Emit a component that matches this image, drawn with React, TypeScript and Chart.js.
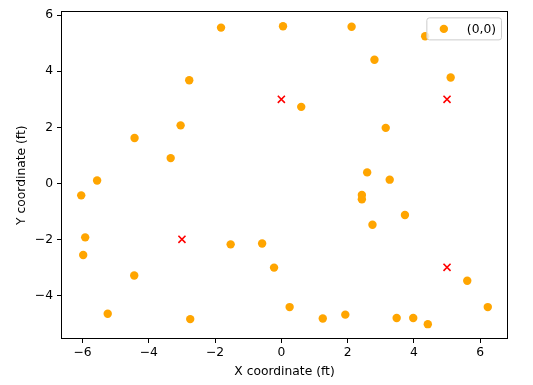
import React, { useEffect, useRef } from "react";
import { Chart, registerables } from "chart.js";

Chart.register(...registerables);

const seriesLabel = "(0,0)";
const pointX = [
  -6.04, -5.56, -4.43, -3.34, -3.04, -2.78, -1.82, 0.05, 2.12, 4.34, 2.81, 5.11,
  0.6, 3.15, 2.59, 3.27, 2.43, 2.43, 3.73, 2.75, -0.58, -0.22, 5.61, 6.23,
  0.25, 1.25, 1.93, 3.48, 3.98, 4.42, -5.92, -5.98, -4.44, -5.24, -2.75, -1.53,
];
const pointY = [
  -0.43, 0.1, 1.62, 0.9, 2.07, 3.68, 5.56, 5.61, 5.59, 5.25, 4.41, 3.78,
  2.73, 1.98, 0.39, 0.13, -0.42, -0.57, -1.13, -1.48, -2.15, -3.01, -3.48, -4.42,
  -4.42, -4.83, -4.69, -4.81, -4.81, -5.03, -1.93, -2.56, -3.29, -4.66, -4.85, -2.18,
];
const crossX = [0, 5, -3, 5];
const crossY = [3, 3, -2, -3];
const xTicks = [-6, -4, -2, 0, 2, 4, 6];
const yTicks = [-4, -2, 0, 2, 4, 6];
const xTitle = "X coordinate (ft)";
const yTitle = "Y coordinate (ft)";
const xMin = -6.65;
const xMax = 6.84;
const yMin = -5.56;
const yMax = 6.14;

const FONT = "DejaVu Sans";
const FS = 12.3;
const ORANGE = "#FFA500";

const fmt = (v: number) => (v < 0 ? "\u2212" + Math.abs(v) : String(v));

const framePlugin = {
  id: "frame",
  afterDatasetsDraw(chart: any) {
    const { ctx, chartArea: a } = chart;
    ctx.save();
    ctx.strokeStyle = "#000";
    ctx.lineWidth = 1;
    ctx.strokeRect(Math.round(a.left) + 0.5, Math.round(a.top) + 0.5, Math.round(a.right - a.left) - 1, Math.round(a.bottom - a.top) - 1);
    // legend
    const label = chart.data.datasets[1].label;
    ctx.font = `${FS}px "${FONT}"`;
    const tw = ctx.measureText(label).width;
    const boxRight = a.right - 6.5;
    const boxTop = a.top + 6.5;
    const textRight = boxRight - 5.5;
    const textLeft = textRight - tw;
    const boxLeft = textLeft - 40;
    const boxH = 22;
    const r = 2.5;
    ctx.beginPath();
    ctx.moveTo(boxLeft + r, boxTop);
    ctx.lineTo(boxRight - r, boxTop);
    ctx.arcTo(boxRight, boxTop, boxRight, boxTop + r, r);
    ctx.lineTo(boxRight, boxTop + boxH - r);
    ctx.arcTo(boxRight, boxTop + boxH, boxRight - r, boxTop + boxH, r);
    ctx.lineTo(boxLeft + r, boxTop + boxH);
    ctx.arcTo(boxLeft, boxTop + boxH, boxLeft, boxTop + boxH - r, r);
    ctx.lineTo(boxLeft, boxTop + r);
    ctx.arcTo(boxLeft, boxTop, boxLeft + r, boxTop, r);
    ctx.closePath();
    ctx.fillStyle = "rgba(255,255,255,0.8)";
    ctx.fill();
    ctx.strokeStyle = "#cccccc";
    ctx.stroke();
    ctx.beginPath();
    ctx.arc(boxLeft + 17, boxTop + boxH / 2, 4.2, 0, Math.PI * 2);
    ctx.fillStyle = ORANGE;
    ctx.fill();
    ctx.fillStyle = "#000";
    ctx.textBaseline = "middle";
    ctx.textAlign = "left";
    ctx.fillText(label, textLeft, boxTop + boxH / 2 + 0.5);
    ctx.restore();
  },
};

export default function App() {
  const ref = useRef<HTMLCanvasElement>(null);
  useEffect(() => {
    if (!ref.current) return;
    const tickFont = { family: FONT, size: FS };
    const chart = new Chart(ref.current, {
      type: "scatter",
      data: {
        datasets: [
          {
            label: "crosses",
            data: crossX.map((x, i) => ({ x, y: crossY[i] })),
            pointStyle: "crossRot",
            pointRadius: 5,
            borderColor: "#ff0000",
            backgroundColor: "#ff0000",
            pointBorderWidth: 1.6,
          } as any,
          {
            label: seriesLabel,
            data: pointX.map((x, i) => ({ x, y: pointY[i] })),
            pointRadius: 4.2,
            pointBorderWidth: 0,
            backgroundColor: ORANGE,
            borderColor: ORANGE,
          },
        ],
      },
      options: {
        responsive: false,
        animation: false,
        devicePixelRatio: 1,
        layout: { padding: { top: 7, right: 25, left: 0, bottom: 0 } },
        plugins: { legend: { display: false }, tooltip: { enabled: false } },
        scales: {
          x: {
            type: "linear",
            min: xMin,
            max: xMax,
            afterBuildTicks: (s: any) => {
              s.ticks = xTicks.map((v) => ({ value: v }));
            },
            afterFit: (s: any) => {
              s.height = 46;
            },
            grid: { display: true, drawOnChartArea: false, drawTicks: true, tickLength: 4, color: "#000", lineWidth: 1 },
            border: { display: false },
            ticks: { color: "#000", font: tickFont, padding: 2.6, maxRotation: 0, callback: (v: any) => fmt(Number(v)) },
            title: { display: true, text: xTitle, color: "#000", font: tickFont, padding: { top: 4, bottom: 5.6 } },
          },
          y: {
            type: "linear",
            min: yMin,
            max: yMax,
            afterBuildTicks: (s: any) => {
              s.ticks = yTicks.map((v) => ({ value: v }));
            },
            afterFit: (s: any) => {
              s.width = 61;
            },
            grid: { display: true, drawOnChartArea: false, drawTicks: true, tickLength: 4, color: "#000", lineWidth: 1 },
            border: { display: false },
            ticks: { color: "#000", font: tickFont, padding: 4, callback: (v: any) => fmt(Number(v)) },
            title: { display: true, text: yTitle, color: "#000", font: tickFont, padding: { top: 14.3, bottom: 4 } },
          },
        },
      },
      plugins: [framePlugin],
    });
    return () => chart.destroy();
  }, []);
  return (
    <div style={{ position: "absolute", left: 0, top: 0, width: 533, height: 385, background: "#fff" }}>
      <canvas ref={ref} width={533} height={385} />
    </div>
  );
}
